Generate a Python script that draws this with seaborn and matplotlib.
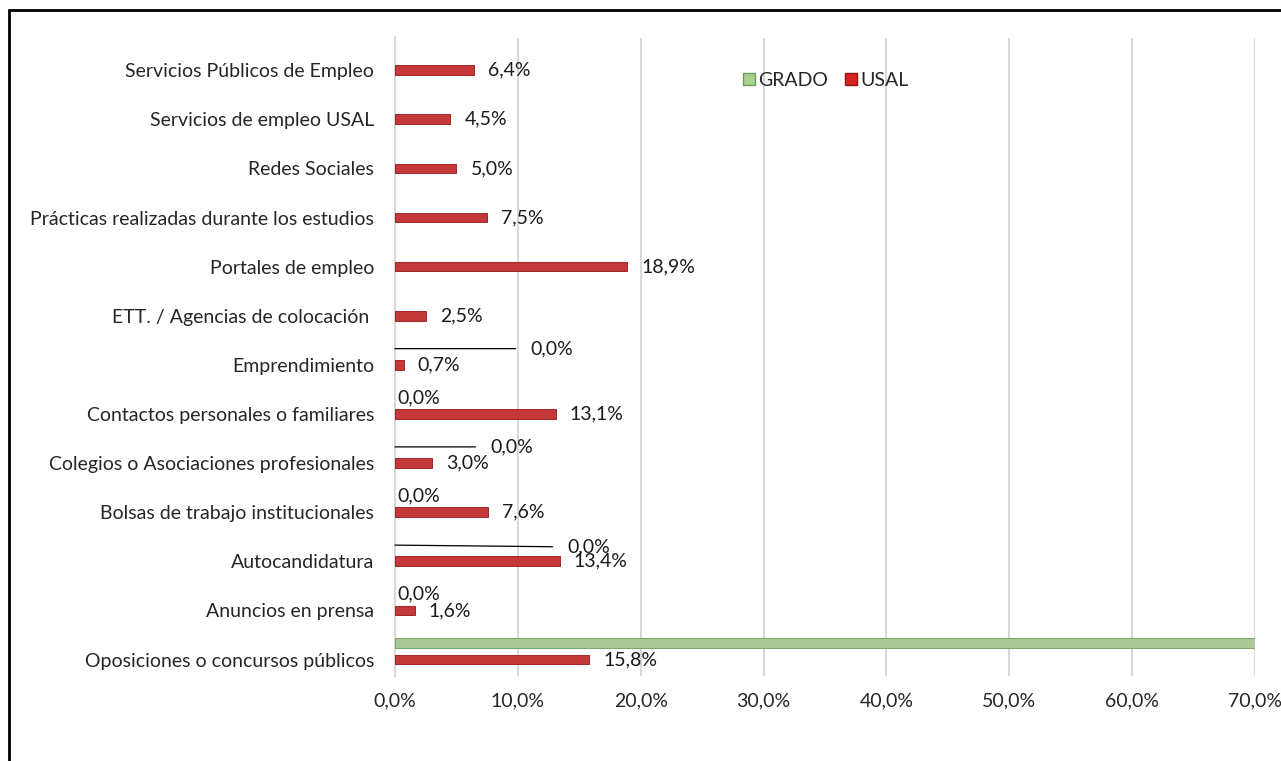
import numpy as np
import pandas as pd
import matplotlib
matplotlib.use("Agg")
import matplotlib.pyplot as plt
import seaborn as sns
from matplotlib.lines import Line2D
from matplotlib.patches import Patch

# Data (top to bottom as shown)
categories = [
    "Servicios Públicos de Empleo",
    "Servicios de empleo USAL",
    "Redes Sociales",
    "Prácticas realizadas durante los estudios",
    "Portales de empleo",
    "ETT. / Agencias de colocación ",
    "Emprendimiento",
    "Contactos personales o familiares",
    "Colegios o Asociaciones profesionales",
    "Bolsas de trabajo institucionales",
    "Autocandidatura",
    "Anuncios en prensa",
    "Oposiciones o concursos públicos",
]
usal = [6.4, 4.5, 5.0, 7.5, 18.9, 2.5, 0.7, 13.1, 3.0, 7.6, 13.4, 1.6, 15.8]
grado = [0.0, 0.0, 0.0, 0.0, 0.0, 0.0, 0.0, 0.0, 0.0, 0.0, 0.0, 0.0, 100.0]
x_ticks = [0, 10, 20, 30, 40, 50, 60, 70]

# which GRADO labels are visible, and where Excel left them (offset px, leader line)
grado_label_offsets = {
    6: (135, 0, True),
    7: (2, 0, False),
    8: (95, 0, True),
    9: (2, 0, False),
    10: (172, -2, True),
    11: (2, 0, False),
}

df = pd.DataFrame({
    "cat": categories * 2,
    "val": grado + usal,
    "serie": ["GRADO"] * len(categories) + ["USAL"] * len(categories),
})

sns.set_style("white")
plt.rcParams["font.family"] = ["Lato", "DejaVu Sans"]
FS = 14

fig = plt.figure(figsize=(12.81, 7.61), dpi=100)
ax = fig.add_axes([395 / 1281, 1 - 676 / 761, 860 / 1281, 638.5 / 761])

colors = {"GRADO": "#A9D18E", "USAL": "#DA2222"}
edges = {"GRADO": "#6F9A58", "USAL": "#961414"}

sns.barplot(data=df, x="val", y="cat", hue="serie", hue_order=["GRADO", "USAL"],
            palette=colors, orient="h", width=0.66, gap=0.4, dodge=True,
            legend=False, ax=ax, zorder=3)

for cont, name in zip(ax.containers, ["GRADO", "USAL"]):
    for bar in cont:
        bar.set_edgecolor(edges[name])
        bar.set_linewidth(0.6 if bar.get_width() > 0 else 0)
        bar.set_clip_on(True)

ax.set_xlim(0, 70)
ax.set_ylim(len(categories) - 0.5, -0.5)

# USAL value labels
usal_bars = ax.containers[1]
for i, bar in enumerate(usal_bars):
    yc = bar.get_y() + bar.get_height() / 2
    ax.annotate(f"{usal[i]:.1f}%".replace(".", ","), xy=(bar.get_width(), yc),
                xytext=(14, 0), textcoords="offset pixels", ha="left", va="center",
                fontsize=FS, color="#1a1a1a")

# GRADO value labels
grado_bars = ax.containers[0]
for i, (dx, dy, line) in grado_label_offsets.items():
    bar = grado_bars[i]
    yc = bar.get_y() + bar.get_height() / 2
    txt = f"{grado[i]:.1f}%".replace(".", ",")
    if line:
        ax.annotate(txt, xy=(0, yc), xytext=(dx, dy), textcoords="offset pixels",
                    ha="left", va="center", fontsize=FS, color="#1a1a1a",
                    arrowprops=dict(arrowstyle="-", color="black", lw=0.9,
                                    shrinkA=8, shrinkB=0))
    else:
        ax.annotate(txt, xy=(0, yc), xytext=(dx, dy), textcoords="offset pixels",
                    ha="left", va="center", fontsize=FS, color="#1a1a1a")

# axes styling
ax.set_xticks(x_ticks)
ax.set_xticklabels([f"{t:.1f}%".replace(".", ",") for t in x_ticks], fontsize=FS)
ax.tick_params(axis="x", length=0, pad=12)
ax.xaxis.grid(True, color="#D9D9D9", linewidth=1.5, zorder=0)
ax.set_axisbelow(True)

n = len(categories)
ax.set_yticks(np.arange(n) + 0.165)
ax.set_yticklabels(categories, fontsize=FS)
ax.tick_params(axis="y", which="major", length=0, pad=15)
ax.set_yticks(np.arange(n + 1) - 0.5, minor=True)
ax.tick_params(axis="y", which="minor", length=7, color="#D9D9D9", width=1.5)

for s in ["top", "right", "bottom"]:
    ax.spines[s].set_visible(False)
ax.spines["left"].set_color("#D9D9D9")
ax.spines["left"].set_linewidth(1.5)
ax.set_xlabel("")
ax.set_ylabel("")

handles = [Patch(facecolor=colors["GRADO"], edgecolor=edges["GRADO"], label="GRADO"),
           Patch(facecolor=colors["USAL"], edgecolor=edges["USAL"], label="USAL")]
ax.legend(handles=handles, loc="center", bbox_to_anchor=(0.501, 0.933), ncol=2,
          frameon=False, fontsize=FS, handlelength=0.6, handleheight=0.6,
          handletextpad=0.15, columnspacing=0.9)

# outer chart border (top and left only visible)
fig.add_artist(Line2D([9 / 1281, 1], [1 - 10 / 761, 1 - 10 / 761],
                      transform=fig.transFigure, color="black", lw=2))
fig.add_artist(Line2D([9 / 1281, 9 / 1281], [0, 1 - 10 / 761],
                      transform=fig.transFigure, color="black", lw=2))

fig.savefig("out.png", dpi=100)
